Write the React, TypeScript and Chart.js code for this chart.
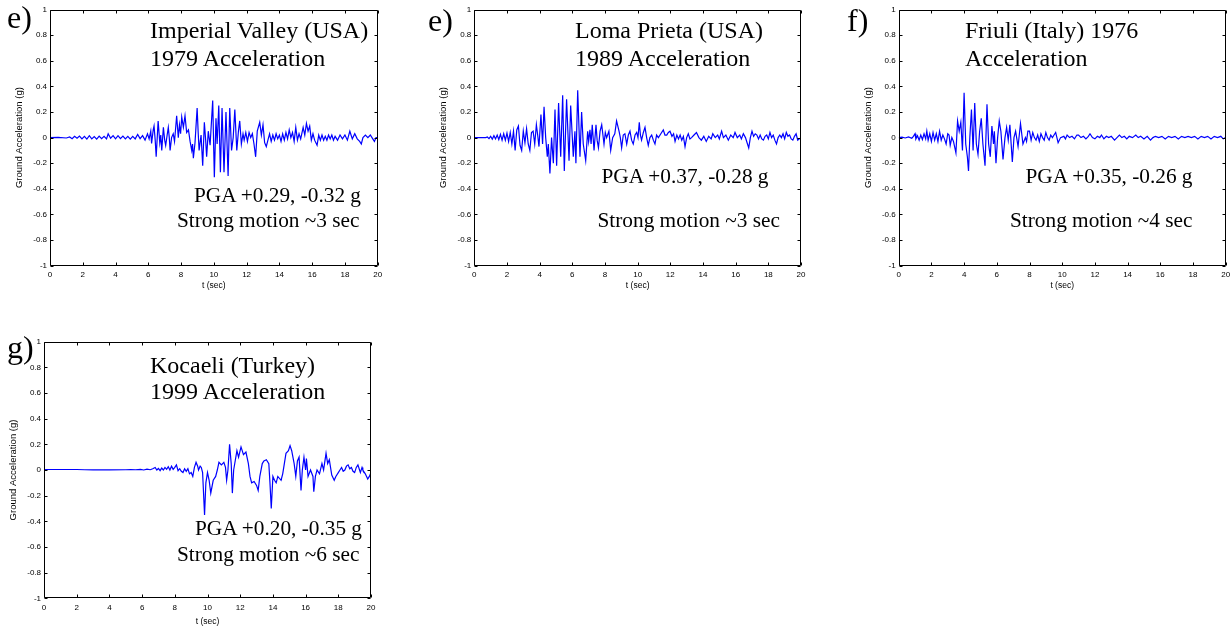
import React, { useEffect, useRef } from "react";
import { Chart, registerables } from "chart.js";

Chart.register(...registerables);

// ---- data: [time (s), ground acceleration (g)] ----
const imperialValley: [number, number][] = [
  [0,0],[0.5,0.002],[1.0,-0.003],[1.2,0.005],[1.35,-0.008],[1.5,0.01],[1.65,-0.005],[1.8,0.012],[1.95,-0.01],[2.1,0.01],[2.25,-0.012],[2.4,0.015],[2.55,-0.01],[2.7,0.008],[2.85,-0.012],[3.0,0.012],[3.15,-0.008],[3.3,0.01],[3.45,-0.01],[3.55,0.03],[3.7,-0.005],[3.85,0.015],[4.0,-0.01],[4.15,0.015],[4.3,-0.008],[4.45,0.012],[4.6,-0.01],[4.75,0.01],[4.9,-0.012],[5.05,0.01],[5.2,-0.01],[5.35,0.025],[5.5,-0.008],[5.65,0.015],[5.8,-0.02],[5.95,0.03],[6.05,-0.01],
  [6.15,0.05],[6.2,-0.045],[6.3,0.06],[6.35,0.09],[6.42,-0.02],[6.48,-0.15],[6.6,0.13],[6.7,-0.04],[6.76,0.02],[6.82,-0.1],[6.92,0.08],[7.0,-0.02],[7.06,-0.06],[7.15,0.02],[7.22,0.08],[7.28,0.0],[7.33,-0.1],[7.42,0.0],[7.52,0.03],[7.6,-0.03],[7.73,0.17],[7.83,0.0],[7.9,0.1],[7.97,0.03],[8.04,0.16],[8.14,0.08],[8.24,0.17],[8.34,0.04],[8.45,0.06],[8.55,-0.03],[8.65,-0.1],[8.7,-0.05],[8.75,-0.16],[8.85,-0.04],[8.98,0.23],[9.04,0.05],[9.1,-0.1],[9.22,0.02],[9.32,-0.22],[9.42,0.12],[9.5,-0.02],[9.56,-0.15],[9.66,0.05],[9.77,-0.06],[9.93,0.29],[10.03,-0.31],[10.13,0.15],[10.2,-0.05],[10.3,0.25],[10.4,-0.27],[10.5,0.23],[10.62,-0.27],[10.74,0.2],[10.87,-0.3],[10.97,0.23],[11.08,-0.1],[11.18,0.0],[11.28,0.22],[11.4,-0.1],[11.5,0.05],[11.58,0.13],[11.68,-0.05],[11.78,0.03],[11.85,-0.02],[11.95,0.04],[12.05,-0.03],[12.15,0.04],[12.25,0.0],[12.35,0.03],[12.45,-0.05],[12.55,-0.15],[12.65,0.05],[12.8,0.12],[12.9,0.02],[13.0,0.1],[13.1,-0.04],[13.2,-0.07],[13.3,-0.02],[13.4,0.03],[13.5,-0.03],[13.6,0.02],[13.7,-0.02],[13.8,0.03],[13.9,-0.01],[14.0,0.02],[14.1,-0.03],[14.2,0.03],[14.3,-0.02],[14.4,0.04],[14.5,-0.01],[14.6,0.06],[14.7,0.0],[14.8,0.04],[14.9,-0.03],[15.0,0.08],[15.1,-0.02],[15.2,0.03],[15.3,-0.01],[15.45,0.08],[15.55,0.02],[15.65,0.11],[15.75,0.05],[15.85,0.09],[15.95,-0.02],[16.05,0.03],[16.15,-0.02],[16.3,-0.06],[16.4,0.02],[16.5,-0.02],[16.6,0.02],[16.7,-0.02],[16.8,0.01],[16.9,-0.02],[17.0,0.02],[17.1,-0.01],[17.2,0.02],[17.3,-0.02],[17.4,0.01],[17.55,-0.02],[17.7,0.02],[17.85,-0.01],[18.0,0.02],[18.15,-0.02],[18.3,0.05],[18.45,-0.01],[18.6,0.03],[18.75,-0.01],[18.9,-0.03],[19.0,-0.05],[19.1,0.0],[19.25,0.02],[19.4,0.0],[19.55,0.02],[19.7,-0.01],[19.8,-0.03],[19.9,0.0],[20.0,0.0],
];

const lomaPrieta: [number, number][] = [
  [0,0],[0.7,0],[0.8,0.005],[0.9,-0.008],[1.0,0.01],[1.1,-0.012],[1.2,0.015],[1.3,-0.01],[1.4,0.02],[1.5,-0.015],[1.6,0.025],[1.7,-0.02],[1.8,0.03],[1.9,-0.02],[2.0,0.035],[2.1,-0.03],[2.2,0.04],[2.3,-0.05],[2.4,0.05],[2.5,-0.1],[2.6,0.06],[2.7,0.09],[2.8,-0.06],[2.9,-0.1],[3.0,0.05],[3.1,-0.04],[3.2,0.07],[3.3,-0.05],[3.4,-0.1],[3.5,0.04],[3.6,0.05],[3.7,-0.05],[3.8,0.1],[3.88,0.02],[3.96,-0.07],[4.08,0.18],[4.18,-0.05],[4.27,0.24],[4.37,0.0],[4.47,-0.15],[4.53,-0.05],[4.63,-0.28],[4.73,0.0],[4.84,-0.2],[4.94,0.22],[5.04,-0.22],[5.16,0.27],[5.29,-0.15],[5.41,0.33],[5.51,-0.26],[5.65,0.3],[5.8,-0.18],[5.9,0.25],[6.06,-0.15],[6.16,0.05],[6.22,-0.2],[6.33,0.37],[6.47,-0.15],[6.57,0.2],[6.67,-0.05],[6.82,-0.18],[6.94,0.05],[7.0,-0.03],[7.08,0.06],[7.15,-0.05],[7.22,0.1],[7.33,-0.1],[7.45,0.1],[7.52,-0.02],[7.6,-0.08],[7.7,0.05],[7.8,0.1],[7.94,-0.05],[8.02,0.04],[8.1,0.0],[8.24,0.05],[8.35,-0.1],[8.47,0.0],[8.6,0.03],[8.71,0.13],[8.86,0.05],[8.94,0.0],[9.02,-0.08],[9.12,0.02],[9.22,0.03],[9.33,-0.05],[9.43,0.02],[9.53,0.05],[9.63,-0.02],[9.73,-0.05],[9.84,0.02],[9.94,0.04],[10.02,0.0],[10.1,0.12],[10.17,0.02],[10.24,-0.02],[10.35,0.04],[10.45,0.08],[10.55,0.0],[10.65,-0.06],[10.75,0.0],[10.86,0.02],[10.96,-0.02],[11.06,-0.05],[11.16,0.02],[11.27,0.0],[11.42,0.03],[11.57,0.06],[11.67,0.02],[11.78,0.02],[11.88,0.04],[11.98,0.05],[12.1,0.01],[12.2,0.03],[12.29,-0.03],[12.4,0.02],[12.5,-0.01],[12.6,0.02],[12.7,-0.02],[12.8,0.01],[12.9,-0.07],[13.0,0.0],[13.1,0.03],[13.2,-0.01],[13.3,0.0],[13.45,0.02],[13.6,0.04],[13.75,0.0],[13.9,-0.02],[14.05,0.01],[14.2,-0.03],[14.35,0.01],[14.5,-0.01],[14.6,0.03],[14.75,0.0],[14.9,0.02],[15.0,-0.01],[15.14,0.05],[15.25,0.0],[15.4,0.02],[15.55,-0.02],[15.7,0.02],[15.85,0.0],[15.96,0.04],[16.1,0.0],[16.25,0.02],[16.35,-0.01],[16.47,0.03],[16.6,0.0],[16.7,-0.04],[16.8,-0.08],[16.9,0.0],[17.0,0.05],[17.1,0.01],[17.2,0.03],[17.3,0.02],[17.4,-0.01],[17.5,0.02],[17.6,-0.01],[17.7,-0.02],[17.8,0.01],[17.9,0.02],[18.0,-0.01],[18.1,0.04],[18.2,0.0],[18.3,0.02],[18.4,-0.02],[18.5,-0.05],[18.6,0.0],[18.7,0.02],[18.8,0.0],[18.9,0.03],[19.0,-0.01],[19.1,0.04],[19.2,0.01],[19.3,0.02],[19.4,-0.01],[19.5,-0.02],[19.6,0.01],[19.7,0.03],[19.8,-0.02],[19.9,-0.01],[20.0,0.0],
];

const friuli: [number, number][] = [
  [0,0],[0.2,0.003],[0.4,-0.003],[0.6,0.005],[0.8,-0.005],[0.9,0.01],[1.0,0.03],[1.05,-0.01],[1.15,0.015],[1.25,-0.02],[1.35,0.02],[1.45,-0.015],[1.55,0.03],[1.65,-0.01],[1.72,0.05],[1.8,-0.02],[1.9,0.03],[2.0,-0.03],[2.1,0.04],[2.2,-0.02],[2.3,0.03],[2.4,-0.03],[2.5,0.05],[2.6,-0.02],[2.7,0.02],[2.8,-0.01],[2.9,-0.05],[3.0,0.03],[3.08,0.02],[3.15,-0.06],[3.25,0.0],[3.35,-0.03],[3.5,-0.12],[3.6,0.13],[3.7,0.05],[3.8,0.12],[3.9,-0.1],[4.0,0.35],[4.1,-0.05],[4.2,-0.15],[4.27,-0.26],[4.35,0.0],[4.45,0.22],[4.55,-0.1],[4.65,0.27],[4.75,-0.05],[4.85,-0.13],[4.95,0.05],[5.05,0.15],[5.15,-0.05],[5.28,-0.22],[5.4,0.26],[5.5,-0.05],[5.6,-0.15],[5.7,0.09],[5.8,-0.05],[5.85,0.05],[5.95,-0.2],[6.05,0.0],[6.15,0.13],[6.25,0.05],[6.38,-0.17],[6.5,0.0],[6.6,0.08],[6.7,-0.02],[6.8,0.1],[6.95,-0.19],[7.05,0.0],[7.15,0.05],[7.3,-0.07],[7.45,0.11],[7.6,-0.05],[7.75,0.0],[7.82,-0.03],[7.9,0.05],[8.0,0.05],[8.1,-0.02],[8.2,0.04],[8.3,0.0],[8.4,-0.02],[8.5,0.02],[8.6,-0.03],[8.7,0.03],[8.8,0.0],[8.9,-0.02],[9.0,0.04],[9.1,0.0],[9.2,-0.02],[9.3,0.02],[9.4,0.0],[9.5,0.02],[9.6,0.04],[9.75,-0.04],[9.9,0.0],[10.1,0.01],[10.2,-0.01],[10.3,0.02],[10.45,0.0],[10.6,0.01],[10.75,-0.01],[10.9,0.02],[11.0,0.02],[11.15,0.0],[11.3,0.01],[11.45,-0.01],[11.6,0.01],[11.7,0.03],[11.85,0.0],[12.0,-0.01],[12.15,0.01],[12.3,0.0],[12.4,0.02],[12.55,-0.01],[12.7,0.01],[12.85,0.0],[13.0,0.01],[13.2,-0.02],[13.35,0.0],[13.5,0.02],[13.65,0.0],[13.8,0.01],[13.95,-0.01],[14.1,0.01],[14.3,0.0],[14.5,0.02],[14.65,0.0],[14.8,0.01],[15.0,-0.01],[15.2,0.01],[15.4,-0.02],[15.55,0.0],[15.7,0.01],[15.9,0.0],[16.1,0.01],[16.3,-0.01],[16.5,0.01],[16.7,0.0],[16.9,0.01],[17.1,-0.01],[17.3,0.01],[17.5,0.0],[17.7,0.01],[17.9,0.0],[18.1,0.01],[18.3,-0.01],[18.5,0.01],[18.7,0.0],[18.9,0.01],[19.1,-0.01],[19.3,0.01],[19.5,0.0],[19.7,0.01],[19.85,-0.01],[20.0,0.0],
];

const kocaeli: [number, number][] = [
  [0,0.004],[1,0.004],[2,0.004],[2.5,0.002],[3,0.001],[4,0.001],[5,0.002],[5.3,0.004],[5.6,0.002],[5.9,0.005],[6.1,0.0],[6.3,0.006],[6.5,0.002],[6.65,0.01],[6.8,0.02],[6.9,0.0],[7.0,0.012],[7.1,-0.005],[7.2,0.015],[7.3,0.0],[7.4,0.02],[7.5,0.005],[7.6,0.025],[7.7,0.0],[7.8,0.03],[7.9,0.005],[8.0,0.02],[8.1,0.04],[8.2,-0.005],[8.3,0.01],[8.4,-0.01],[8.5,-0.02],[8.6,0.01],[8.7,-0.01],[8.8,0.01],[8.9,-0.03],[9.0,-0.02],[9.1,-0.05],[9.2,0.02],[9.3,0.06],[9.4,0.03],[9.45,0.0],[9.55,0.03],[9.62,0.02],[9.7,-0.02],[9.82,-0.35],[9.9,-0.1],[10.0,-0.02],[10.1,-0.08],[10.2,-0.18],[10.35,-0.08],[10.5,-0.05],[10.6,0.0],[10.7,0.06],[10.85,0.04],[11.0,0.06],[11.1,0.02],[11.17,-0.08],[11.25,0.0],[11.35,0.2],[11.45,0.05],[11.52,-0.18],[11.6,0.0],[11.8,0.15],[11.9,0.1],[12.05,0.18],[12.2,0.12],[12.35,0.14],[12.5,0.05],[12.6,-0.05],[12.7,-0.1],[12.85,-0.09],[13.0,-0.12],[13.1,-0.16],[13.2,-0.05],[13.35,0.05],[13.45,0.07],[13.6,0.08],[13.75,0.05],[13.82,-0.1],[13.9,-0.3],[14.0,-0.05],[14.1,-0.08],[14.2,-0.1],[14.3,-0.05],[14.5,-0.08],[14.6,-0.03],[14.7,0.05],[14.8,0.13],[14.95,0.15],[15.05,0.19],[15.15,0.15],[15.3,0.05],[15.4,-0.05],[15.5,0.07],[15.6,0.1],[15.72,-0.16],[15.8,0.0],[15.9,0.1],[16.0,0.0],[16.05,0.09],[16.15,-0.05],[16.3,0.0],[16.45,-0.05],[16.5,-0.17],[16.6,-0.05],[16.7,0.0],[16.85,-0.03],[17.0,0.05],[17.1,0.0],[17.25,0.13],[17.35,0.05],[17.45,0.08],[17.6,-0.04],[17.75,-0.08],[17.85,-0.05],[18.0,-0.02],[18.1,0.0],[18.2,0.02],[18.3,-0.01],[18.4,0.0],[18.5,0.03],[18.6,0.04],[18.7,0.01],[18.8,0.02],[18.9,-0.01],[19.0,-0.02],[19.1,0.02],[19.2,0.04],[19.3,0.0],[19.35,-0.02],[19.45,0.02],[19.5,0.0],[19.65,-0.03],[19.8,-0.07],[19.9,-0.05],[20.0,-0.02],
];

const xTickValues = [0, 2, 4, 6, 8, 10, 12, 14, 16, 18, 20];
const yTickValues = [-1, -0.8, -0.6, -0.4, -0.2, 0, 0.2, 0.4, 0.6, 0.8, 1];
const xAxisTitle = "t (sec)";
const yAxisTitle = "Ground Acceleration (g)";

type Label = { text: string; x: number; y: number; size: number };
type PanelCfg = {
  key: string;
  data: [number, number][];
  L: number; T: number; R: number; B: number;
  xTickPad: number; xTitleOff: number;
  labels: Label[];
};

const TITLE_PX = 24;
const NOTE_PX = 21.3;
const TAG_PX = 32;

const panels: PanelCfg[] = [
  {
    key: "iv", data: imperialValley, L: 50, T: 9.5, R: 377.7, B: 265.7, xTickPad: 4.5, xTitleOff: 20.3,
    labels: [
      { text: "e)", x: 7, y: 28, size: TAG_PX },
      { text: "Imperial Valley (USA)", x: 150, y: 38, size: TITLE_PX },
      { text: "1979 Acceleration", x: 150, y: 66, size: TITLE_PX },
      { text: "PGA +0.29, -0.32 g", x: 194, y: 203, size: NOTE_PX },
      { text: "Strong motion ~3 sec", x: 177, y: 228, size: NOTE_PX },
    ],
  },
  {
    key: "lp", data: lomaPrieta, L: 474.3, T: 9.5, R: 801, B: 265.7, xTickPad: 4.5, xTitleOff: 20.3,
    labels: [
      { text: "e)", x: 428, y: 31, size: TAG_PX },
      { text: "Loma Prieta (USA)", x: 575, y: 38, size: TITLE_PX },
      { text: "1989 Acceleration", x: 575, y: 66, size: TITLE_PX },
      { text: "PGA +0.37, -0.28 g", x: 601.5, y: 184, size: NOTE_PX },
      { text: "Strong motion ~3 sec", x: 597.5, y: 228.3, size: NOTE_PX },
    ],
  },
  {
    key: "fr", data: friuli, L: 898.7, T: 9.5, R: 1225.7, B: 265.7, xTickPad: 4.5, xTitleOff: 20.3,
    labels: [
      { text: "f)", x: 847, y: 31, size: TAG_PX },
      { text: "Friuli (Italy) 1976", x: 965, y: 38, size: TITLE_PX },
      { text: "Acceleration", x: 965, y: 66, size: TITLE_PX },
      { text: "PGA +0.35, -0.26 g", x: 1025.5, y: 184, size: NOTE_PX },
      { text: "Strong motion ~4 sec", x: 1010, y: 228.3, size: NOTE_PX },
    ],
  },
  {
    key: "ko", data: kocaeli, L: 44, T: 341.7, R: 371, B: 598.3, xTickPad: 5, xTitleOff: 23.5,
    labels: [
      { text: "g)", x: 7, y: 358, size: TAG_PX },
      { text: "Kocaeli (Turkey)", x: 150, y: 372.7, size: TITLE_PX },
      { text: "1999 Acceleration", x: 150, y: 399, size: TITLE_PX },
      { text: "PGA +0.20, -0.35 g", x: 195, y: 535.7, size: NOTE_PX },
      { text: "Strong motion ~6 sec", x: 177, y: 561.7, size: NOTE_PX },
    ],
  },
];

const AXIS_W = 44;
const XAXIS_H = 30;
const SANS = "'Liberation Sans', Arial, Helvetica, sans-serif";
const SERIF = "'Liberation Serif', 'Times New Roman', serif";

const boxPlugin = {
  id: "matlabBox",
  afterDraw(chart: any) {
    const { ctx, chartArea } = chart;
    const { left, right, top, bottom } = chartArea;
    const xs = chart.scales.x;
    const ys = chart.scales.y;
    ctx.save();
    ctx.strokeStyle = "#000";
    ctx.lineWidth = 1;
    const l = Math.round(left) + 0.5, r = Math.round(right) - 0.5;
    const t = Math.round(top) + 0.5, b = Math.round(bottom) - 0.5;
    ctx.beginPath();
    ctx.rect(l, t, r - l, b - t);
    const len = 3;
    xTickValues.forEach((v) => {
      const px = Math.round(xs.getPixelForValue(v)) + 0.5;
      ctx.moveTo(px, b); ctx.lineTo(px, b - len);
      ctx.moveTo(px, t); ctx.lineTo(px, t + len);
    });
    yTickValues.forEach((v) => {
      const py = Math.round(ys.getPixelForValue(v)) + 0.5;
      ctx.moveTo(l, py); ctx.lineTo(l + len, py);
      ctx.moveTo(r, py); ctx.lineTo(r - len, py);
    });
    ctx.stroke();
    ctx.restore();
  },
};

function Panel({ cfg }: { cfg: PanelCfg }) {
  const ref = useRef<HTMLCanvasElement>(null);
  const cx = Math.floor(cfg.L - AXIS_W);
  const cy = Math.floor(cfg.T - 10);
  const w = Math.min(1232 - cx, Math.ceil(cfg.R - cx + 6));
  const h = Math.ceil(cfg.B - cy + XAXIS_H + 1);
  const padLeft = cfg.L - AXIS_W - cx;
  const padTop = cfg.T - cy;
  const padRight = w - (cfg.R - cx);
  const padBottom = h - (cfg.B - cy) - XAXIS_H;

  useEffect(() => {
    const tickFont = { family: SANS, size: 8 };
    const titleFont = { family: SANS, size: 9.5 };
    const titleLH = 9.5 * 1.2;
    const chart = new Chart(ref.current as HTMLCanvasElement, {
      type: "line",
      data: {
        datasets: [
          {
            data: cfg.data.map(([x, y]) => ({ x, y })),
            borderColor: "#0000ff",
            borderWidth: 1.2,
            pointRadius: 0,
            tension: 0,
            fill: false,
          },
        ],
      },
      options: {
        animation: false,
        responsive: false,
        maintainAspectRatio: false,
        events: [],
        layout: { padding: { left: padLeft, top: padTop, right: padRight, bottom: padBottom } },
        plugins: { legend: { display: false }, tooltip: { enabled: false } },
        scales: {
          x: {
            type: "linear",
            min: 0,
            max: 20,
            afterFit: (s: any) => { s.height = XAXIS_H; s.paddingLeft = 0; s.paddingRight = 0; },
            afterBuildTicks: (s: any) => { s.ticks = xTickValues.map((v) => ({ value: v })); },
            ticks: { font: tickFont, color: "#000", padding: cfg.xTickPad, maxRotation: 0, autoSkip: false,
              callback: (v: any) => String(v) },
            grid: { display: false, drawTicks: false },
            border: { display: false },
            title: {
              display: true, text: xAxisTitle, font: { family: SANS, size: 8.5 }, color: "#000",
              padding: { top: 0, bottom: XAXIS_H - cfg.xTitleOff - (8.5 * 1.2) / 2 },
            },
          },
          y: {
            type: "linear",
            min: -1,
            max: 1,
            afterFit: (s: any) => { s.width = AXIS_W; s.paddingTop = 0; s.paddingBottom = 0; },
            afterBuildTicks: (s: any) => { s.ticks = yTickValues.map((v) => ({ value: v })); },
            ticks: { font: tickFont, color: "#000", padding: 3, autoSkip: false,
              callback: (v: any) => String(Math.round(Number(v) * 10) / 10) },
            grid: { display: false, drawTicks: false },
            border: { display: false },
            title: {
              display: true, text: yAxisTitle, font: titleFont, color: "#000",
              padding: { top: AXIS_W - 30.5 - titleLH / 2, bottom: 0 },
            },
          },
        },
      },
      plugins: [boxPlugin],
    } as any);
    return () => chart.destroy();
  }, []);

  return (
    <canvas
      ref={ref}
      width={w}
      height={h}
      style={{ position: "absolute", left: cx, top: cy, width: w, height: h }}
    />
  );
}

function TextLabel({ l }: { l: Label }) {
  return (
    <div
      style={{
        position: "absolute",
        left: l.x,
        top: l.y - 0.8375 * l.size,
        fontFamily: SERIF,
        fontSize: l.size,
        lineHeight: `${l.size}px`,
        whiteSpace: "nowrap",
        color: "#000",
        pointerEvents: "none",
      }}
    >
      {l.text}
    </div>
  );
}

export default function App() {
  return (
    <div style={{ position: "absolute", left: 0, top: 0, width: 1232, height: 630, background: "#fff", overflow: "hidden" }}>
      {panels.map((p) => (
        <Panel key={p.key} cfg={p} />
      ))}
      {panels.map((p) => p.labels.map((l, i) => <TextLabel key={p.key + i} l={l} />))}
    </div>
  );
}
